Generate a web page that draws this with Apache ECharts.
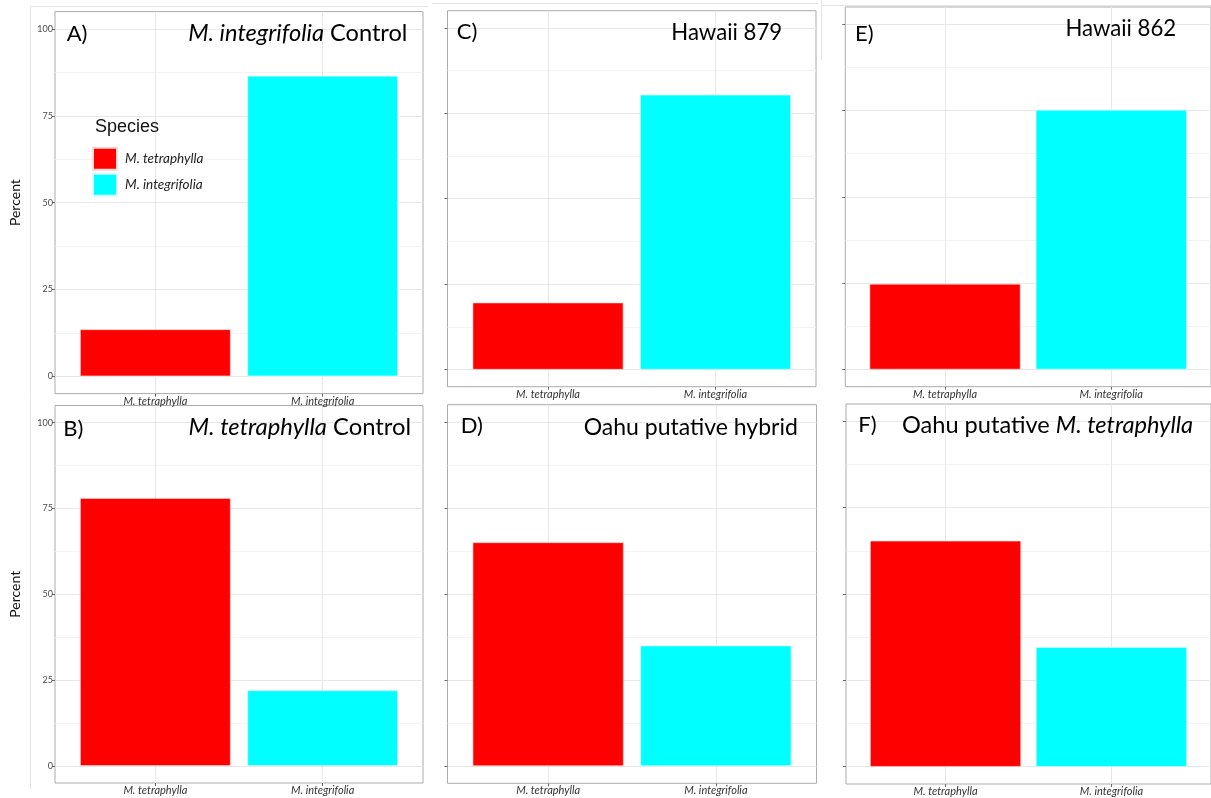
<!DOCTYPE html>
<html>
<head>
<meta charset="utf-8">
<title>Species assignment by sample group</title>
<script src="https://cdn.jsdelivr.net/npm/echarts@6/dist/echarts.min.js"></script>
<style>
  html, body { margin: 0; padding: 0; background: #ffffff; }
  #chart { width: 1211px; height: 798px; }
</style>
</head>
<body>
<div id="chart"></div>
<script>
// ---- data ----
const categories = ['M. tetraphylla', 'M. integrifolia'];
const panelLetters = ['A)', 'B)', 'C)', 'D)', 'E)', 'F)'];
const panelTitles = [
  '{i|M. integrifolia} Control',
  '{i|M. tetraphylla} Control',
  'Hawaii 879',
  'Oahu putative hybrid',
  'Hawaii 862',
  'Oahu putative {i|M. tetraphylla}'
];
const tetraphyllaPct = [13.5, 78.0, 19.6, 65.0, 24.8, 65.4];
const integrifoliaPct = [86.5, 22.0, 80.4, 35.0, 75.2, 34.6];
const yTicks = [0, 25, 50, 75, 100];
const yMinorTicks = [12.5, 37.5, 62.5, 87.5];
const xTicks = [0, 1];

// ---- layout of the six panels (pixels) ----
const panels = [
  { left: 55,    top: 11.6,  width: 368,   height: 382,   letter: [66.7, 34],  title: [297.8, 33],    titleSize: 23.6, yLabels: true },
  { left: 55,    top: 405.5, width: 368,   height: 377.5, letter: [63.3, 429], title: [299.8, 427.5], titleSize: 23.8, yLabels: true },
  { left: 447.5, top: 10.7,  width: 368.5, height: 376,   letter: [456.7, 32], title: [726.7, 32.5],  titleSize: 22.2, yLabels: false },
  { left: 447.5, top: 404.7, width: 369,   height: 378.6, letter: [460.7, 426], title: [690.8, 428],  titleSize: 23,   yLabels: false },
  { left: 845.3, top: 7,     width: 369,   height: 379.7, letter: [855, 33.5], title: [1120.8, 28.5], titleSize: 22.2, yLabels: false },
  { left: 846,   top: 404,   width: 369,   height: 380,   letter: [858.3, 425], title: [1047.5, 425], titleSize: 23.6, yLabels: false }
];

const RED = '#ff0000';
const CYAN = '#00ffff';
const FONT = 'Lato, "Open Sans", sans-serif';
const X_MIN = -0.6, X_MAX = 1.6;   // discrete scale with 0.6 expansion
const Y_MIN = -5, Y_MAX = 105;     // 0..100 with 5% expansion

const grids = [], xAxes = [], yAxes = [], series = [], graphics = [];

panels.forEach((p, i) => {
  grids.push({
    left: p.left, top: p.top, width: p.width, height: p.height,
    show: true, borderColor: '#ababab', borderWidth: 1, backgroundColor: '#ffffff',
    containLabel: false
  });

  xAxes.push({
    type: 'value', gridIndex: i, min: X_MIN, max: X_MAX, position: 'bottom',
    axisLine: { show: false, onZero: false },
    axisTick: { show: true, customValues: xTicks, length: 3, lineStyle: { color: '#666', width: 1 } },
    axisLabel: {
      show: true, customValues: xTicks, margin: 2,
      formatter: v => categories[Math.round(v)],
      fontFamily: FONT, fontStyle: 'italic', fontSize: 11, color: '#333'
    },
    splitLine: { show: true, lineStyle: { color: '#e8e8e8', width: 1 } }
  });

  // major scale: ticks, labels, major grid lines
  yAxes.push({
    type: 'value', gridIndex: i, min: Y_MIN, max: Y_MAX, position: 'left',
    name: p.yLabels ? 'Percent' : '',
    nameLocation: 'middle', nameGap: 33, nameRotate: 90,
    nameTextStyle: { fontFamily: FONT, fontSize: 14, color: '#111' },
    axisLine: { show: false, onZero: false },
    axisTick: { show: true, customValues: yTicks, length: 3, lineStyle: { color: '#666', width: 1 } },
    axisLabel: {
      show: p.yLabels, customValues: yTicks, margin: 2,
      fontFamily: FONT, fontSize: 9, color: '#4d4d4d'
    },
    splitLine: { show: true, lineStyle: { color: '#e8e8e8', width: 1 } }
  });
  // minor grid lines
  yAxes.push({
    type: 'value', gridIndex: i, min: Y_MIN, max: Y_MAX, position: 'right',
    axisLine: { show: false, onZero: false },
    axisTick: { show: false, customValues: yMinorTicks },
    axisLabel: { show: false, customValues: yMinorTicks },
    splitLine: { show: true, lineStyle: { color: '#f0f0f0', width: 0.8 } }
  });

  const barWidth = p.width / (X_MAX - X_MIN) * 0.9;
  series.push({
    type: 'bar', name: categories[0], xAxisIndex: i, yAxisIndex: 2 * i,
    data: [[0, tetraphyllaPct[i]]], barWidth: barWidth, barGap: '-100%',
    itemStyle: { color: RED, borderColor: '#ffd8d8', borderWidth: 0.6 },
    silent: true, animation: false
  });
  series.push({
    type: 'bar', name: categories[1], xAxisIndex: i, yAxisIndex: 2 * i,
    data: [[1, integrifoliaPct[i]]], barWidth: barWidth, barGap: '-100%',
    itemStyle: { color: CYAN, borderColor: '#d8ffff', borderWidth: 0.6 },
    silent: true, animation: false
  });

  // panel letter and heading
  graphics.push({
    type: 'text', x: p.letter[0], y: p.letter[1], z: 100,
    style: {
      text: panelLetters[i], fill: '#000', font: '22px ' + FONT,
      textAlign: 'left', textVerticalAlign: 'middle'
    }
  });
  graphics.push({
    type: 'text', x: p.title[0], y: p.title[1], z: 100,
    style: {
      text: panelTitles[i], fill: '#000',
      fontFamily: FONT, fontSize: p.titleSize,
      textAlign: 'center', textVerticalAlign: 'middle',
      rich: { i: { fontFamily: FONT, fontSize: p.titleSize, fontStyle: 'italic', fill: '#000' } }
    }
  });
});

// legend heading
graphics.push({
  type: 'text', x: 95, y: 127, z: 100,
  style: {
    text: 'Species', fill: '#111', font: '18px "Liberation Sans", Arial, sans-serif',
    textAlign: 'left', textVerticalAlign: 'middle'
  }
});

// faint outlines around the assembled figure
const faint = { stroke: '#e4e4e4', lineWidth: 1 };
graphics.push({ type: 'line', shape: { x1: 30, y1: 6.5, x2: 428, y2: 6.5 }, style: faint, silent: true });
graphics.push({ type: 'line', shape: { x1: 30.5, y1: 6.5, x2: 30.5, y2: 789 }, style: faint, silent: true });
graphics.push({ type: 'line', shape: { x1: 432, y1: 3.5, x2: 818, y2: 3.5 }, style: faint, silent: true });
graphics.push({ type: 'line', shape: { x1: 821.5, y1: 0, x2: 821.5, y2: 60 }, style: faint, silent: true });
graphics.push({ type: 'line', shape: { x1: 822, y1: 5.5, x2: 1211, y2: 5.5 }, style: faint, silent: true });

const option = {
  backgroundColor: '#ffffff',
  animation: false,
  grid: grids,
  xAxis: xAxes,
  yAxis: yAxes,
  series: series,
  legend: {
    data: categories,
    orient: 'vertical',
    left: 92, top: 146.7,
    padding: 0,
    itemWidth: 24, itemHeight: 22, itemGap: 2,
    icon: 'rect',
    selectedMode: false,
    textStyle: { fontFamily: FONT, fontStyle: 'italic', fontSize: 13.5, color: '#222', padding: [0, 0, 0, 3] }
  },
  graphic: graphics
};

const chart = echarts.init(document.getElementById('chart'), null, { renderer: 'canvas' });
chart.setOption(option);
</script>
</body>
</html>
